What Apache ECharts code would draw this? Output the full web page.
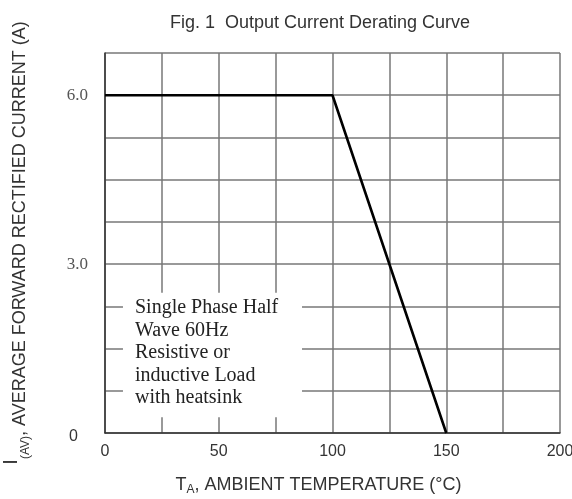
<!DOCTYPE html>
<html><head><meta charset="utf-8">
<script src="https://cdn.jsdelivr.net/npm/echarts@6/dist/echarts.min.js"></script>
<style>html,body{margin:0;padding:0;background:#fff}#c{width:572px;height:499px}</style>
</head><body><div id="c"></div>
<script>
const tempC = [0, 100, 150];
const currentA = [6.0, 6.0, 0];
const xTickLabels = ['0', '50', '100', '150', '200'];
const yTickLabels = ['0', '3.0', '6.0'];
const noteLines = ['Single Phase Half', 'Wave 60Hz', 'Resistive or', 'inductive Load', 'with heatsink'];
const noteBoxX = [7.9, 86.6];
const noteBoxY = [0.28, 2.49];

const chart = echarts.init(document.getElementById('c'));
const sans = 'Liberation Sans';
const serif = 'Liberation Serif';
chart.setOption({
  animation: false,
  backgroundColor: '#fff',
  title: {
    text: 'Fig. 1  Output Current Derating Curve',
    left: 315, top: 9, textAlign: 'center',
    textStyle: {fontFamily: sans, fontSize: 18, fontWeight: 'normal', color: '#333'}
  },
  grid: {left: 105, right: 12, top: 53, bottom: 66, containLabel: false, outerBoundsMode: 'none'},
  xAxis: {
    type: 'value', min: 0, max: 200, interval: 25,
    axisLine: {lineStyle: {color: '#333', width: 1.5}},
    axisTick: {show: false},
    splitLine: {lineStyle: {color: '#777', width: 1.5}},
    axisLabel: {
      margin: 11, fontFamily: sans, fontSize: 16, color: '#333',
      formatter: v => { const s = String(v); return xTickLabels.includes(s) ? s : ''; }
    },
    name: '{t|T}{sub|A}{t|, AMBIENT TEMPERATURE (°C)}',
    nameLocation: 'middle', nameGap: 42,
    nameTextStyle: {
      padding: [0, 28, 0, 0],
      rich: {
        t: {fontFamily: sans, fontSize: 18, color: '#333'},
        sub: {fontFamily: sans, fontSize: 12, color: '#333', padding: [9, 0, 0, 0]}
      }
    }
  },
  yAxis: {
    type: 'value', min: 0, max: 6.75, interval: 0.75,
    axisLine: {show: true, lineStyle: {color: '#333', width: 1.5}},
    axisTick: {show: false},
    splitLine: {lineStyle: {color: '#777', width: 1.5}},
    axisLabel: {
      margin: 17,
      formatter: v => {
        const s = v === 0 ? '0' : v.toFixed(1);
        if (!yTickLabels.includes(s)) return '';
        return v === 0 ? '{z|0}' : '{s|' + s + '}';
      },
      rich: {
        z: {fontFamily: sans, fontSize: 16, color: '#333', padding: [8, 10, 0, 0]},
        s: {fontFamily: serif, fontSize: 17, color: '#555'}
      }
    },
    name: '{i|I}{sub|(AV)}{t|, AVERAGE FORWARD RECTIFIED CURRENT (A)}',
    nameLocation: 'middle', nameGap: 66,
    nameTextStyle: {
      rich: {
        i: {fontFamily: sans, fontSize: 20, color: '#333', padding: [0, 0, 18, 0]},
        t: {fontFamily: sans, fontSize: 18, color: '#333'},
        sub: {fontFamily: sans, fontSize: 12, color: '#333', padding: [12, 0, 0, 0]}
      }
    }
  },
  series: [{
    type: 'line',
    data: tempC.map((t, i) => [t, currentA[i]]),
    showSymbol: false,
    lineStyle: {color: '#000', width: 2.6},
    z: 5,
    markArea: {
      silent: true,
      itemStyle: {color: '#fff', opacity: 1},
      label: {
        show: true, position: 'insideTopLeft', distance: 0,
        formatter: noteLines.join('\n'),
        fontFamily: serif, fontSize: 20, lineHeight: 22.5, color: '#222',
        padding: [4, 0, 0, 12]
      },
      data: [[{xAxis: noteBoxX[0], yAxis: noteBoxY[1]}, {xAxis: noteBoxX[1], yAxis: noteBoxY[0]}]]
    }
  }]
});
</script></body></html>
